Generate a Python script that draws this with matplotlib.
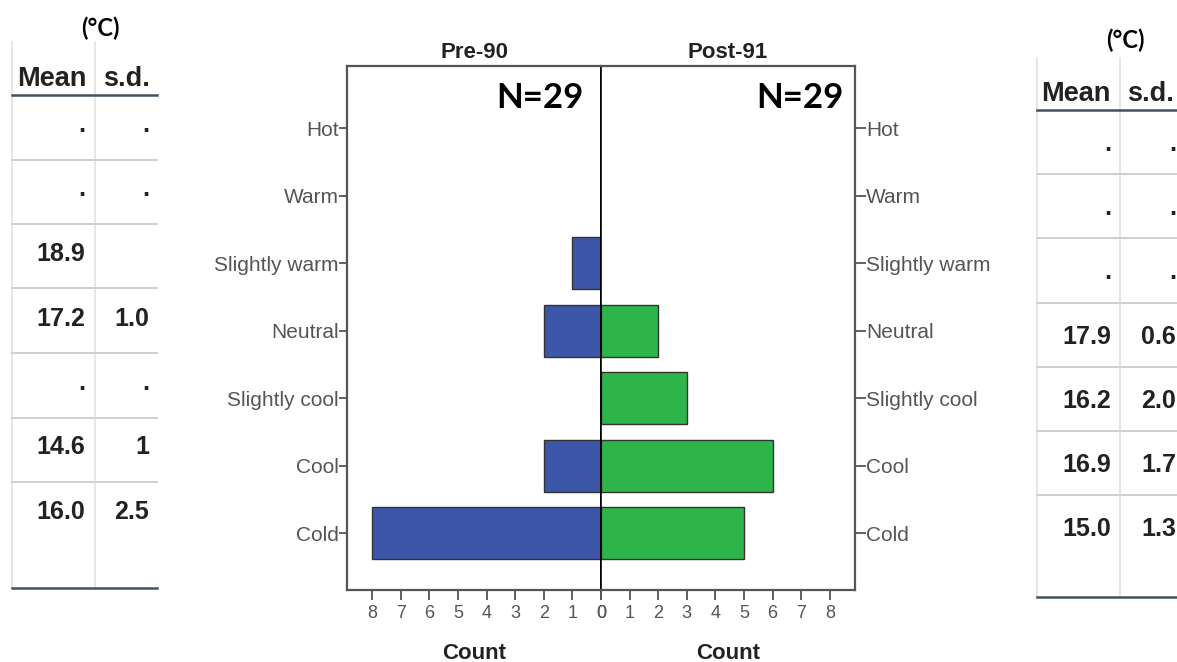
import matplotlib
matplotlib.use("Agg")
import matplotlib.pyplot as plt
from matplotlib.lines import Line2D

# ---- data ----
categories = ["Cold", "Cool", "Slightly cool", "Neutral", "Slightly warm", "Warm", "Hot"]
pre90_counts = [8, 2, 0, 2, 1, 0, 0]
post91_counts = [5, 6, 3, 2, 0, 0, 0]
pre_label = "Pre-90"
post_label = "Post-91"
n_pre = "N=29"
n_post = "N=29"

# tables, top row = Hot
left_mean = [".", ".", "18.9", "17.2", ".", "14.6", "16.0"]
left_sd = [".", ".", "", "1.0", ".", "1", "2.5"]
right_mean = [".", ".", ".", "17.9", "16.2", "16.9", "15.0"]
right_sd = [".", ".", ".", "0.6", "2.0", "1.7", "1.3"]

BLUE = "#3c56a8"
GREEN = "#2db54a"
EDGE = "#333333"
TICK_GREY = "#555555"
TXT = "#222222"
ARIAL = "Liberation Sans"

W, H = 1177, 662
fig = plt.figure(figsize=(W / 100, H / 100), dpi=100)
fig.patch.set_facecolor("white")


def fx(px):
    return px / W


def fy(py):
    return 1 - py / H


ax_l = fig.add_axes([fx(347), fy(590), fx(601 - 347), fy(66) - fy(590)])
ax_r = fig.add_axes([fx(601), fy(590), fx(855 - 601), fy(66) - fy(590)])

ypos = list(range(len(categories)))
xmax = 8.88


def nonzero(vals):
    pairs = [(y, v) for y, v in zip(ypos, vals) if v > 0]
    return [p[0] for p in pairs], [p[1] for p in pairs]


yl, vl = nonzero(pre90_counts)
yr, vr = nonzero(post91_counts)
ax_l.barh(yl, vl, height=0.77, color=BLUE, edgecolor=EDGE, linewidth=1)
ax_r.barh(yr, vr, height=0.77, color=GREEN, edgecolor=EDGE, linewidth=1)
ax_l.set_xlim(xmax, 0)
ax_r.set_xlim(0, xmax)
for ax in (ax_l, ax_r):
    ax.set_ylim(-0.84, 6.92)
    ax.set_xticks(range(0, 9))
    ax.set_xticklabels([str(i) for i in range(0, 9)], color=TICK_GREY,
                       fontsize=13, family=ARIAL)
    ax.tick_params(axis="x", length=7, width=1.3, color=TICK_GREY, pad=4)
    for s in ax.spines.values():
        s.set_color("#555555")
        s.set_linewidth(1.6)
    ax.set_xlabel("Count", fontsize=16, fontweight="bold", family=ARIAL,
                  color=TXT, labelpad=15)

ax_l.spines["right"].set_color("black")
ax_r.spines["left"].set_color("black")
ax_r.spines["left"].set_linewidth(1.2)
ax_l.spines["right"].set_linewidth(1.2)

ax_l.set_yticks(ypos)
ax_l.set_yticklabels(categories, color=TICK_GREY, fontsize=15, family=ARIAL)
ax_l.tick_params(axis="y", length=6, width=1.3, color=TICK_GREY, pad=0)
ax_r.set_yticks(ypos)
ax_r.yaxis.tick_right()
ax_r.set_yticklabels(categories, color=TICK_GREY, fontsize=15, family=ARIAL)
ax_r.tick_params(axis="y", length=8, width=1.3, color=TICK_GREY, pad=0)

ax_l.set_title(pre_label, fontsize=16, fontweight="bold", family=ARIAL,
               color=TXT, pad=6)
ax_r.set_title(post_label, fontsize=16, fontweight="bold", family=ARIAL,
               color=TXT, pad=6)
ax_l.text(0.93, 0.97, n_pre, transform=ax_l.transAxes, ha="right", va="top",
          fontsize=25, fontweight="bold", family="Lato")
ax_r.text(0.955, 0.97, n_post, transform=ax_r.transAxes, ha="right", va="top",
          fontsize=25, fontweight="bold", family="Lato")


def draw_table(x0, x_div, x1, y_top, y_head, row_h, y_bottom, text_off,
               means, sds, mean_right, sd_right, mean_hx, sd_hx, unit_x, unit_y):
    dark = "#45525e"
    light = "#cfcfcf"
    for xv in (x0, x_div):
        fig.add_artist(Line2D([fx(xv), fx(xv)], [fy(y_top), fy(y_bottom)],
                              color="#e2e2e2", lw=1.2))
    fig.add_artist(Line2D([fx(x0), fx(x1)], [fy(y_head), fy(y_head)], color=dark, lw=1.8))
    fig.add_artist(Line2D([fx(x0), fx(x1)], [fy(y_bottom), fy(y_bottom)], color=dark, lw=1.8))
    for i in range(1, len(means)):
        yline = y_head + i * row_h
        fig.add_artist(Line2D([fx(x0), fx(x1)], [fy(yline), fy(yline)], color=light, lw=1.4))
    fig.text(fx(unit_x), fy(unit_y), "(°C)", ha="center", va="center",
             fontsize=17, fontweight="bold", family="Lato")
    fig.text(fx(mean_hx), fy(y_head - 16), "Mean", ha="center", va="center",
             fontsize=19.5, fontweight="bold", family=ARIAL, color=TXT)
    fig.text(fx(sd_hx), fy(y_head - 16), "s.d.", ha="center", va="center",
             fontsize=19.5, fontweight="bold", family=ARIAL, color=TXT)
    for i, (m, s) in enumerate(zip(means, sds)):
        yt = y_head + i * row_h + text_off
        fig.text(fx(mean_right), fy(yt), m, ha="right", va="center",
                 fontsize=18, fontweight="bold", family=ARIAL, color=TXT)
        fig.text(fx(sd_right), fy(yt), s, ha="right", va="center",
                 fontsize=18, fontweight="bold", family=ARIAL, color=TXT)


draw_table(12, 95, 157, 42, 95, 64.5, 588, 30, left_mean, left_sd,
           85, 149, 52, 127, 100, 28)
draw_table(1037, 1120, 1200, 58, 110, 64.2, 597, 34, right_mean, right_sd,
           1111, 1176, 1076, 1150, 1125, 40)

fig.savefig("out.png", dpi=100, facecolor="white")
